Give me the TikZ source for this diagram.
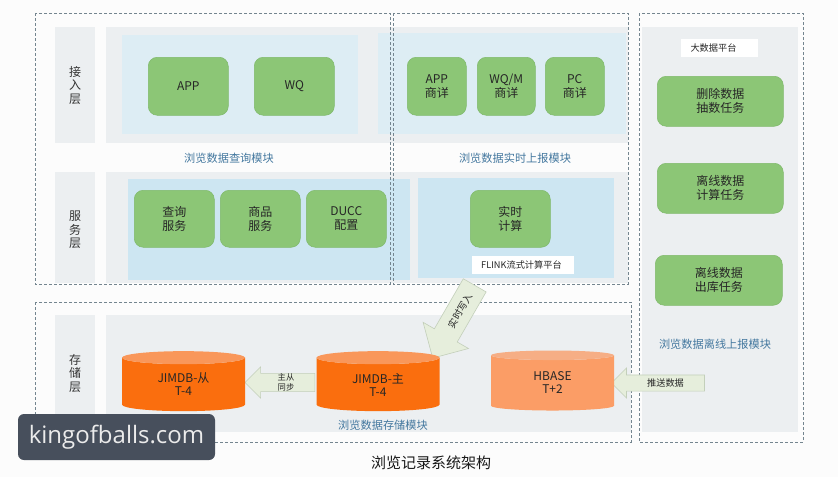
\documentclass[tikz,border=0pt]{standalone}
\usepackage{fontspec}
\setmainfont{Noto Sans CJK SC}
\newfontfamily\wmfont{Open Sans}
\usetikzlibrary{shapes.geometric,shapes.arrows}
\definecolor{pagebg}{HTML}{FCFCFC}
\definecolor{panelgray}{HTML}{ECEFF1}
\definecolor{paleblue}{HTML}{DDEDF4}
\definecolor{skyblue}{HTML}{CDE6F2}
\definecolor{boxgreen}{HTML}{8CC676}
\definecolor{greenedge}{HTML}{7FB96B}
\definecolor{dashcol}{HTML}{74858F}
\definecolor{modblue}{HTML}{44789F}
\definecolor{orangebody}{HTML}{FA6E0E}
\definecolor{orangetop}{HTML}{F9975A}
\definecolor{peachbody}{HTML}{FB9D66}
\definecolor{peachtop}{HTML}{F6AE85}
\definecolor{arrowfill}{HTML}{E6EEDC}
\definecolor{arrowedge}{HTML}{C3CFBA}
\definecolor{wmbg}{HTML}{474F5C}
\tikzset{
  frameline/.style={draw=dashcol,densely dashed,line width=0.8pt},
  panel/.style={fill=panelgray},
  pale/.style={fill=paleblue},
  sky/.style={fill=skyblue},
  gbox/.style={draw=greenedge,line width=0.5pt,fill=boxgreen,rounded corners=9pt,inner sep=0pt,align=center,text=black!85,font=\fontsize{12}{14}\selectfont,anchor=north west},
  modlabel/.style={text=modblue,font=\fontsize{11.2}{13}\selectfont,inner sep=0pt},
  tag/.style={fill=white,inner sep=0pt,font=\fontsize{9.2}{11}\selectfont,text=black!85},
  layerlabel/.style={align=center,font=\fontsize{12}{13.5}\selectfont,text=black!80,inner sep=0pt},
  dbcyl/.style={cylinder,shape border rotate=90,aspect=0.25,cylinder uses custom fill,minimum width=123pt,minimum height=60pt,inner sep=0pt,align=center,text=black!85,font=\fontsize{12}{13}\selectfont,draw=none},
  blockarrow/.style={single arrow,draw=arrowedge,fill=arrowfill,line width=0.6pt,inner sep=0pt,align=center,text=black!85},
}
\newcommand{\greenbox}[6]{\node[gbox,minimum width=#3 pt,minimum height=#4 pt] (#5) at (#1,#2) {#6};}
\begin{document}
\begin{tikzpicture}[x=1pt,y=-1pt]
\useasboundingbox (0,0) rectangle (838,477);
\fill[pagebg] (0,0) rectangle (838,477);
% layer label panels
\fill[panel] (55,27) rectangle (95,143);
\fill[panel] (55,172) rectangle (95,283);
\fill[panel] (55,315) rectangle (95,433);
% main panels
\fill[panel] (106,27) rectangle (628,143);
\fill[pale] (122,35) rectangle (358,134);
\fill[pale] (378,33) rectangle (626,134);
\fill[panel] (106,172) rectangle (628,283);
\fill[sky] (128,179) rectangle (410,280);
\fill[sky] (418,178) rectangle (614,278);
\fill[panel] (106,315) rectangle (631,432);
\fill[panel] (642,27) rectangle (798,432);
% dashed frames
\draw[frameline] (35,13) rectangle (390,284);
\draw[frameline] (393,13) rectangle (628,284);
\draw[frameline] (639,13) rectangle (803,442);
\draw[frameline] (35,302) rectangle (631,442);
% layer labels
\node[layerlabel] (l1) at (75,85) {接\\入\\层};
\node[layerlabel] (l2) at (75,230) {服\\务\\层};
\node[layerlabel] (l3) at (75,373) {存\\储\\层};
% green boxes
\greenbox{148}{57}{80}{58}{app}{APP}
\greenbox{254}{57}{80}{58}{wq}{WQ}
\greenbox{407}{57}{59}{58}{appd}{APP\\商详}
\greenbox{477}{57}{58}{58}{wqm}{WQ/M\\商详}
\greenbox{545}{57}{59}{58}{pc}{PC\\商详}
\greenbox{134}{190}{80}{57}{query}{查询\\服务}
\greenbox{220}{190}{80}{57}{goods}{商品\\服务}
\greenbox{306}{190}{80}{57}{ducc}{DUCC\\配置}
\greenbox{470}{190}{80}{57}{rt}{实时\\计算}
\greenbox{657}{76}{126}{50}{del}{删除数据\\抽数任务}
\greenbox{657}{163}{126}{50}{off}{离线数据\\计算任务}
\greenbox{655}{255}{127}{50}{out}{离线数据\\出库任务}
% tags
\node[tag,minimum width=102pt,minimum height=18pt] (flink) at (523,265) {\hspace*{-3pt}FLINK流式计算平台};
\node[tag,minimum width=77pt,minimum height=18pt] (bigd) at (719.5,48) {\hspace*{-12pt}大数据平台};
% module labels
\node[modlabel] (m1) at (229,158) {浏览数据查询模块};
\node[modlabel] (m2) at (515,158) {浏览数据实时上报模块};
\node[modlabel] (m3) at (715,344) {浏览数据离线上报模块};
\node[modlabel] (m4) at (383,425) {浏览数据存储模块};
% block arrows
\node[blockarrow,shape border rotate=180,minimum height=70pt,inner ysep=0pt,single arrow head extend=6.5pt,font=\fontsize{8.3}{10}\selectfont] (sync) at (284.5,382.5) {\hspace*{3pt}主从\\\hspace*{3pt}同步};
\node[blockarrow,shape border rotate=180,minimum height=93pt,inner ysep=3.5pt,single arrow head extend=7pt,font=\fontsize{9.2}{11}\selectfont] (push) at (662,383) {\hspace*{7pt}推送数据};
\node[blockarrow,rotate=60,shape border rotate=180,minimum height=84pt,inner ysep=8.5pt,single arrow head extend=13pt,font=\fontsize{9.5}{11}\selectfont] (write) at (457,316) {\hspace*{12pt}实时写入};
% cylinders
\node[dbcyl,cylinder body fill=orangebody,cylinder end fill=orangetop] (slave) at (183.5,384.5) {JIMDB-从\\T-4};
\node[dbcyl,cylinder body fill=orangebody,cylinder end fill=orangetop] (master) at (378,384.5) {JIMDB-主\\T-4};
\node[dbcyl,cylinder body fill=peachbody,cylinder end fill=peachtop] (hbase) at (552.5,383) {HBASE\\T+2};
% title
\node[inner sep=0pt,font=\fontsize{15}{17}\selectfont,text=black!90] (title) at (431,463) {浏览记录系统架构};
% watermark
\node[fill=wmbg,rounded corners=6pt,minimum width=197pt,minimum height=46pt,inner sep=0pt,text=white!92!black,font=\wmfont\fontsize{24}{28}\selectfont] (wm) at (116.5,437) {kingofballs.com};
\end{tikzpicture}
\end{document}
